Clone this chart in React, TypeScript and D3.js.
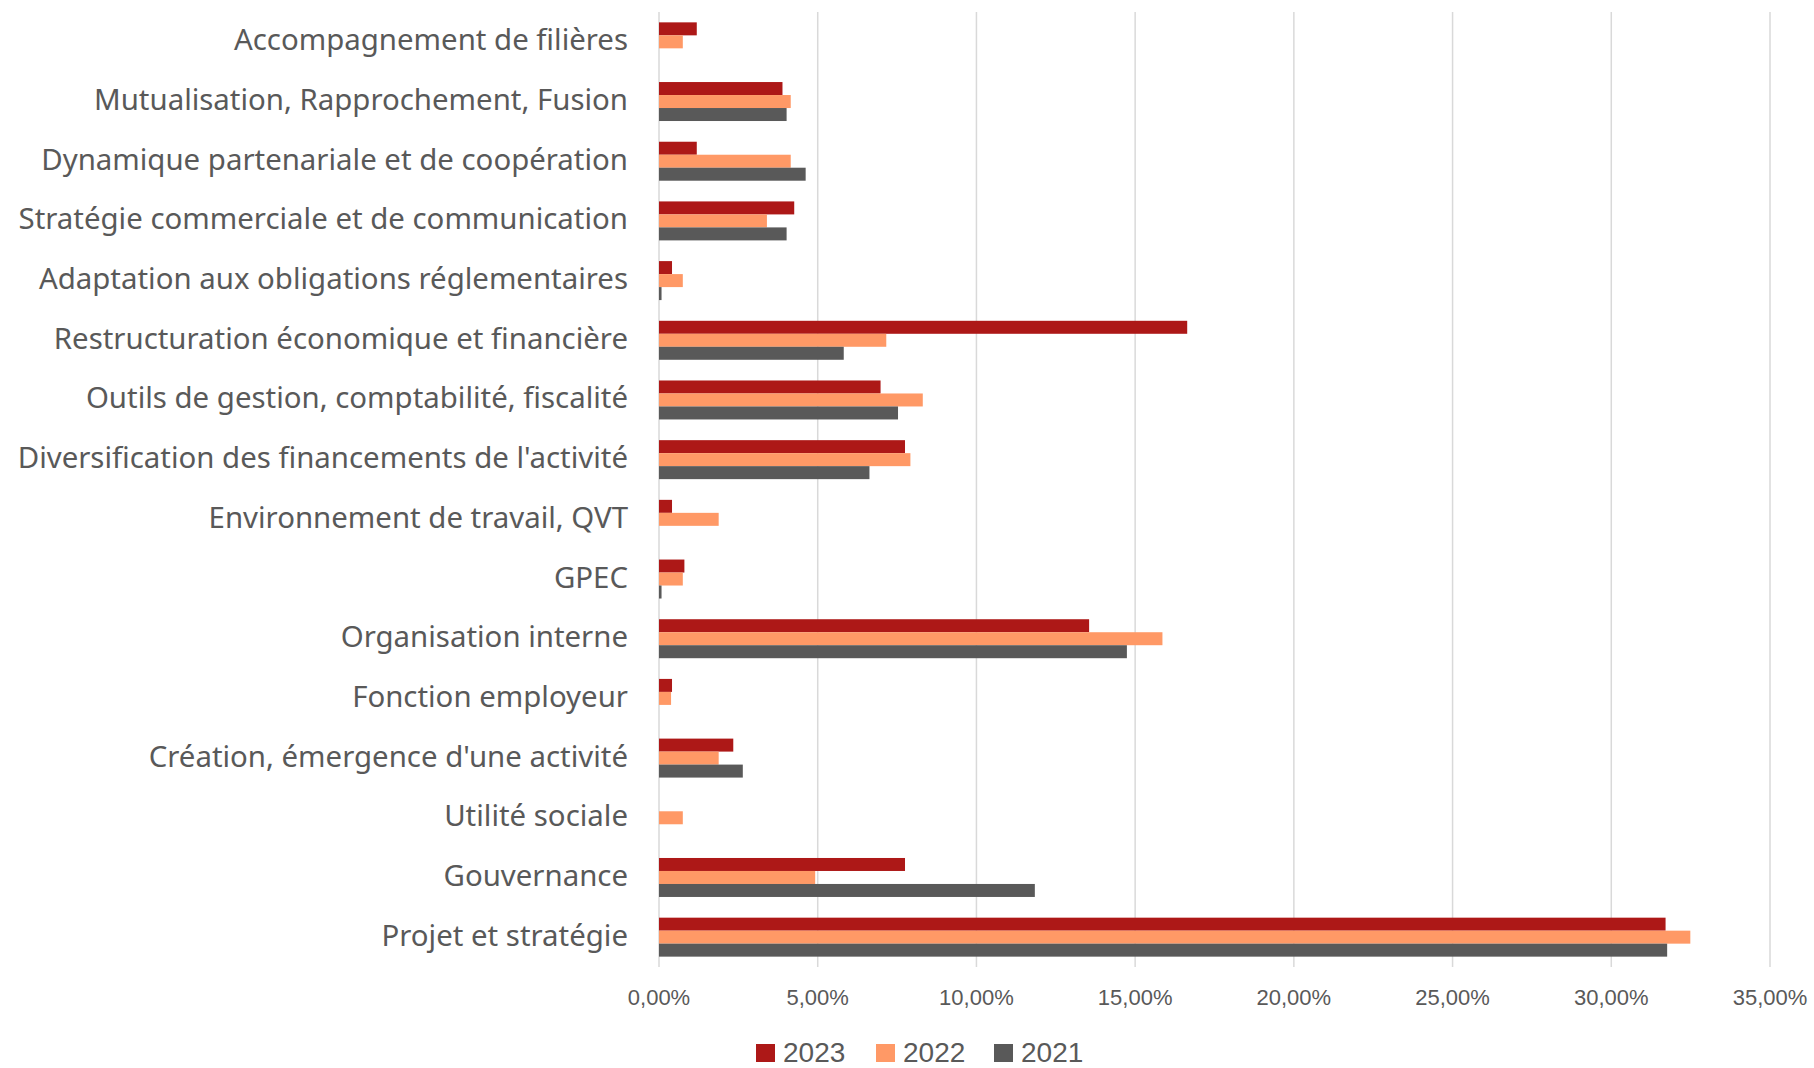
import React from "react";
import * as d3 from "d3";

const categories = [
  "Accompagnement de filières",
  "Mutualisation, Rapprochement, Fusion",
  "Dynamique partenariale et de coopération",
  "Stratégie commerciale et de communication",
  "Adaptation aux obligations réglementaires",
  "Restructuration économique et financière",
  "Outils de gestion, comptabilité, fiscalité",
  "Diversification des financements de l'activité",
  "Environnement de travail, QVT",
  "GPEC",
  "Organisation interne",
  "Fonction employeur",
  "Création, émergence d'une activité",
  "Utilité sociale",
  "Gouvernance",
  "Projet et stratégie",
];

const series = ["2023", "2022", "2021"];

const values2023 = [1.19, 3.89, 1.19, 4.26, 0.41, 16.64, 6.98, 7.75, 0.41, 0.8, 13.55, 0.41, 2.34, 0, 7.75, 31.71];
const values2022 = [0.75, 4.15, 4.15, 3.4, 0.75, 7.16, 8.31, 7.92, 1.88, 0.75, 15.86, 0.38, 1.88, 0.75, 4.92, 32.49];
const values2021 = [0, 4.02, 4.62, 4.02, 0.08, 5.82, 7.53, 6.63, 0, 0.08, 14.74, 0, 2.64, 0, 11.84, 31.76];

const tickValues = [0, 5, 10, 15, 20, 25, 30, 35];

const colors: Record<string, string> = {
  "2023": "#AD1817",
  "2022": "#FF9966",
  "2021": "#595959",
};

const valuesBySeries: Record<string, number[]> = {
  "2023": values2023,
  "2022": values2022,
  "2021": values2021,
};

export default function App() {
  const W = 1814;
  const H = 1068;
  const x = d3.scaleLinear().domain([0, 35]).range([659, 1770]);
  const y0 = d3
    .scaleBand<string>()
    .domain(categories)
    .range([12, 967])
    .paddingInner(0.347)
    .paddingOuter(0.1735);
  const y1 = d3.scaleBand<string>().domain(series).range([0, y0.bandwidth()]);
  const fmt = (v: number) => v.toFixed(2).replace(".", ",") + "%";
  const textColor = "#595959";

  const legendX = [756, 876, 994];

  return (
    <svg
      width={W}
      height={H}
      style={{ position: "absolute", left: 0, top: 0, background: "#fff" }}
    >
      <rect x={0} y={0} width={W} height={H} fill="#fff" />
      {tickValues.map((t) => (
        <line
          key={"g" + t}
          x1={x(t)}
          x2={x(t)}
          y1={12}
          y2={967}
          stroke="#d9d9d9"
          strokeWidth={1.5}
        />
      ))}
      {categories.map((c, i) => (
        <g key={c}>
          {series.map((s) => {
            const v = valuesBySeries[s][i];
            return (
              <rect
                key={s}
                x={x(0)}
                y={(y0(c) as number) + (y1(s) as number)}
                width={Math.max(0, x(v) - x(0))}
                height={y1.bandwidth()}
                fill={colors[s]}
              />
            );
          })}
          <text
            x={628}
            y={(y0(c) as number) + y0.bandwidth() / 2 + 8.5}
            textAnchor="end"
            fontFamily="'Noto Sans', sans-serif"
            fontSize={29.4}
            fill={textColor}
          >
            {c}
          </text>
        </g>
      ))}
      {tickValues.map((t) => (
        <text
          key={"t" + t}
          x={x(t)}
          y={1005}
          textAnchor="middle"
          fontFamily="'Liberation Sans', Arial, sans-serif"
          fontSize={22}
          fill={textColor}
        >
          {fmt(t)}
        </text>
      ))}
      {series.map((s, i) => (
        <g key={"l" + s}>
          <rect x={legendX[i]} y={1044} width={19} height={18} fill={colors[s]} />
          <text
            x={legendX[i] + 27}
            y={1062}
            fontFamily="'Liberation Sans', Arial, sans-serif"
            fontSize={28}
            fill={textColor}
          >
            {s}
          </text>
        </g>
      ))}
    </svg>
  );
}
